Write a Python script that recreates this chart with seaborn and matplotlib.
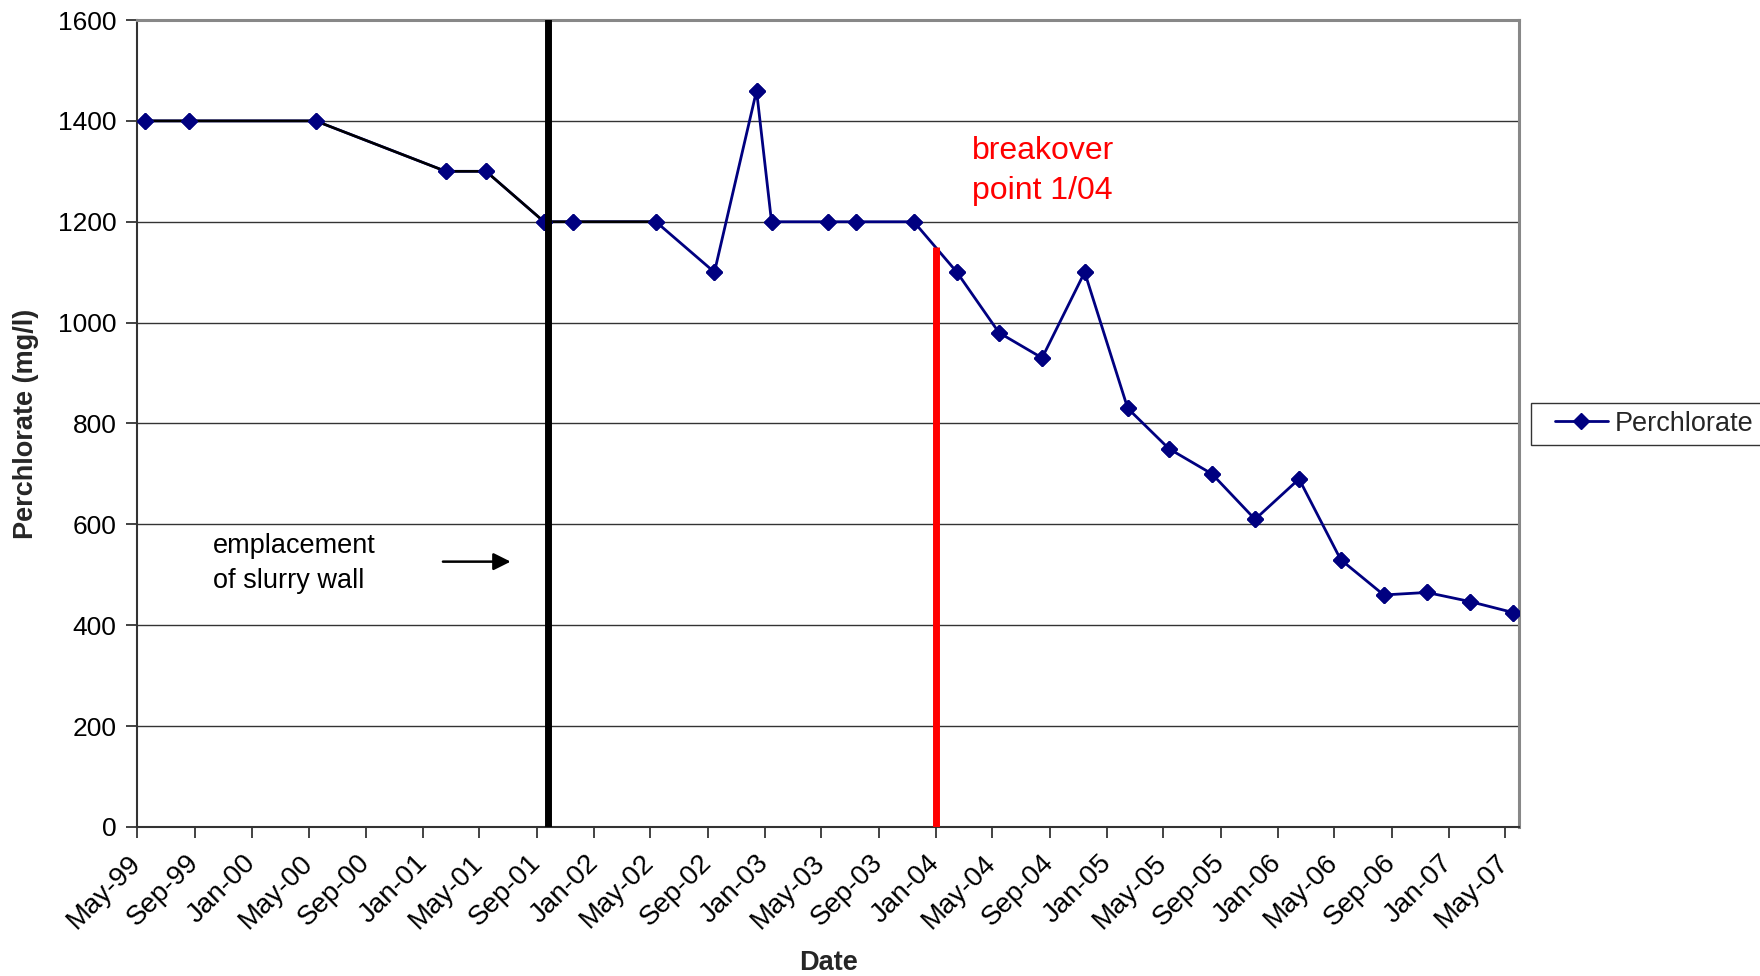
import matplotlib
matplotlib.use("Agg")
import matplotlib.pyplot as plt
import matplotlib.dates as mdates
from matplotlib.legend_handler import HandlerLine2D
import pandas as pd
import seaborn as sns

# Sampling dates and perchlorate concentrations (mg/l)
sample_dates = [
    "1999-05-17", "1999-08-19", "2000-05-16", "2001-02-18", "2001-05-15",
    "2001-09-16", "2001-11-16", "2002-05-13", "2002-09-15", "2002-12-14",
    "2003-01-15", "2003-05-15", "2003-07-15", "2003-11-15", "2004-02-15",
    "2004-05-15", "2004-08-15", "2004-11-14", "2005-02-14", "2005-05-13",
    "2005-08-13", "2005-11-13", "2006-02-15", "2006-05-15", "2006-08-15",
    "2006-11-15", "2007-02-15", "2007-05-19",
]
perchlorate = [
    1400, 1400, 1400, 1300, 1300,
    1200, 1200, 1200, 1100, 1460,
    1200, 1200, 1200, 1200, 1100,
    980, 930, 1100, 830, 750,
    700, 610, 690, 530, 460,
    465, 447, 425,
]
# number of early samples drawn with a black connecting line
n_early = 8

slurry_wall_date = "2001-09-24"
breakover_date = "2004-01-01"
breakover_top = 1150

y_ticks = [0, 200, 400, 600, 800, 1000, 1200, 1400, 1600]
x_start, x_end = "1999-05-01", "2007-05-31"

navy = "#000080"
red = "#ff0000"

sns.set_theme(style="white")
plt.rcParams["font.family"] = ["Liberation Sans", "DejaVu Sans"]

df = pd.DataFrame({"Date": pd.to_datetime(sample_dates), "Perchlorate": perchlorate})

fig = plt.figure(figsize=(17.6, 9.76), dpi=100)
ax = fig.add_axes([0.0780, 0.1527, 0.7851, 0.8268])

# horizontal gridlines
ax.set_axisbelow(True)
ax.yaxis.grid(True, color="#333333", linewidth=1.0)
ax.xaxis.grid(False)

marker_kw = dict(marker="D", markersize=8, markeredgewidth=1)

sns.lineplot(data=df, x="Date", y="Perchlorate", ax=ax, color=navy,
             linewidth=2.0, markeredgecolor=navy, label="Perchlorate",
             zorder=3, **marker_kw)

early = df.iloc[:n_early]
ax.plot(early["Date"], early["Perchlorate"], color="black", linewidth=1.8, zorder=4)
ax.plot(df["Date"], df["Perchlorate"], linestyle="none", color=navy,
        zorder=5, **marker_kw)

# event lines
ax.axvline(pd.Timestamp(slurry_wall_date), color="black", linewidth=5, zorder=6)
ax.vlines(pd.Timestamp(breakover_date), 0, breakover_top, color=red,
          linewidth=5, zorder=6)

ax.set_xlim(pd.Timestamp(x_start), pd.Timestamp(x_end))
ax.set_ylim(0, 1600)
ax.set_yticks(y_ticks)
ax.xaxis.set_major_locator(mdates.MonthLocator(bymonth=[1, 5, 9]))
ax.xaxis.set_major_formatter(mdates.DateFormatter("%b-%y"))

ax.tick_params(axis="both", which="major", direction="out", length=8,
               width=1.2, color="#222222", labelcolor="black")
ax.tick_params(axis="y", pad=7, left=True, labelsize=19)
ax.tick_params(axis="x", pad=15, bottom=True, labelsize=20)
for lab in ax.get_xticklabels():
    lab.set_rotation(45)
    lab.set_ha("right")
    lab.set_va("center")
    lab.set_rotation_mode("anchor")

for side in ("left", "bottom"):
    ax.spines[side].set_color("#333333")
    ax.spines[side].set_linewidth(1.5)
for side in ("top", "right"):
    ax.spines[side].set_color("#888888")
    ax.spines[side].set_linewidth(2.2)

ax.set_xlabel("Date", fontsize=19.5, fontweight="bold")
ax.set_ylabel("Perchlorate (mg/l)", fontsize=19.5, fontweight="bold")
ax.xaxis.set_label_coords(0.5, -0.153)
ax.yaxis.set_label_coords(-0.071, 0.5)

# annotations
ax.text(0.055, 0.326, "emplacement\nof slurry wall", transform=ax.transAxes,
        fontsize=19.5, ha="left", va="center", color="black", linespacing=1.45)
ax.annotate("", xy=(0.2702, 0.3288), xytext=(0.2212, 0.3288),
            xycoords="axes fraction", textcoords="axes fraction",
            arrowprops=dict(arrowstyle="-|>", color="black", lw=1.8,
                            mutation_scale=26, shrinkA=0, shrinkB=0))
ax.text(0.604, 0.813, "breakover\npoint 1/04", transform=ax.transAxes,
        fontsize=23, ha="left", va="center", color=red, linespacing=1.4)

handles, labels = ax.get_legend_handles_labels()
if ax.get_legend() is not None:
    ax.get_legend().remove()
leg = fig.legend(handles[:1], labels[:1], loc="center left",
                 bbox_to_anchor=(1530.7 / 1760, 0.5656), borderaxespad=0,
                 fontsize=19.5, frameon=True, fancybox=False, edgecolor="black",
                 handlelength=2.55, handletextpad=0.25, borderpad=0.3,
                 handler_map={handles[0]: HandlerLine2D(xpad=0.58)})
leg.get_frame().set_linewidth(1.0)

fig.savefig("out.png", dpi=100, facecolor="white")
